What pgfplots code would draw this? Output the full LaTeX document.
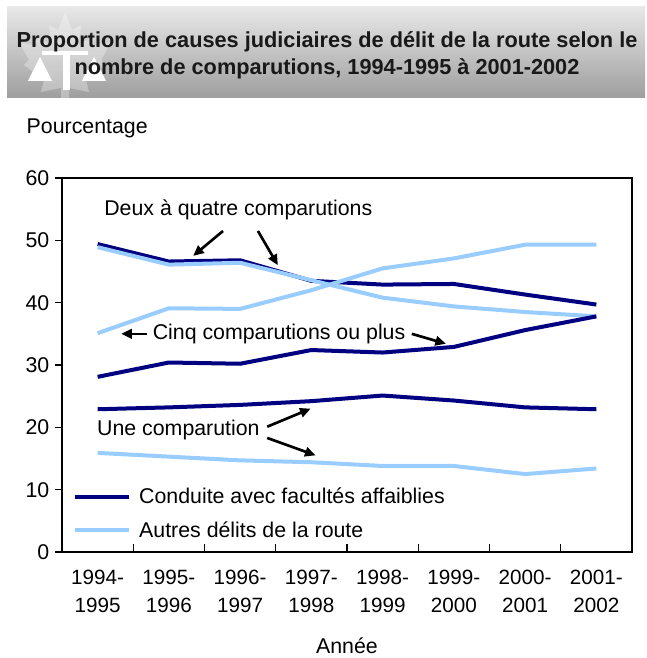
\documentclass[border=0pt]{standalone}
\usepackage{pgfplots}
\pgfplotsset{compat=1.18}
\usepackage{fontspec}
\setmainfont{Liberation Sans}
\usetikzlibrary{arrows.meta}
\definecolor{darkb}{RGB}{0,0,128}
\definecolor{lightb}{RGB}{153,204,255}
\begin{document}
\begin{tikzpicture}[x=0.75pt,y=0.75pt]
\useasboundingbox (0,0) rectangle (647,658);
% banner
\shade[top color={rgb,255:red,232;green,232;blue,232}, bottom color={rgb,255:red,158;green,158;blue,158}] (7,560) rectangle (645,651);
\fill[white,opacity=0.3] (65,646) -- (72,628) -- (81,633) -- (79,613) -- (96,623) -- (93,612) -- (111,616) -- (101,598) -- (106,593) -- (86,578) -- (89,566) -- (69,570) -- (69,560) -- (61,560) -- (61,570) -- (41,566) -- (44,578) -- (24,593) -- (29,598) -- (19,616) -- (37,612) -- (34,623) -- (51,613) -- (49,633) -- (58,628) -- cycle;
\fill[white] (28,577) -- (40,601) -- (52,577) -- cycle;
\fill[white] (82,577) -- (94,601) -- (106,577) -- cycle;
\fill[white] (63,568) rectangle (70,603);
\fill[white] (42,603) rectangle (88,607);
\node[font=\fontsize{16.3}{20}\selectfont\bfseries, text={rgb,255:red,25;green,25;blue,25}, align=center] at (327,603) {Proportion de causes judiciaires de délit de la route selon le\\nombre de comparutions, 1994-1995 à 2001-2002};
\node[font=\fontsize{16}{19}\selectfont, anchor=west] at (22,530) {Pourcentage};
\node[font=\fontsize{16}{19}\selectfont, inner sep=1pt] at (347,12) {Année};
\begin{axis}[at={(46.5pt,79.5pt)}, anchor=south west, scale only axis,
  width=427.5pt, height=280.5pt,
  xmin=-0.5, xmax=7.5, ymin=0, ymax=60,
  axis line style={line width=1.3pt},
  tick align=inside,
  xtick={0,...,7},
  xticklabels={{1994-\\1995},{1995-\\1996},{1996-\\1997},{1997-\\1998},{1998-\\1999},{1999-\\2000},{2000-\\2001},{2001-\\2002}},
  xticklabel style={align=center, font=\fontsize{15.5}{21}\selectfont, yshift=-10pt},
  major x tick style={draw=none},
  minor xtick={0.5,1.5,...,6.5},
  minor tick length=6pt,
  minor x tick style={line width=1pt, black},
  ytick={0,10,...,60},
  ytick pos=left, xtick pos=bottom,
  y tick style={line width=1pt, black, xshift=-5pt},
  major tick length=5pt,
  yticklabel style={font=\fontsize{16}{19}\selectfont, xshift=-6pt},
  /pgf/number format/assume math mode=true,
  legend image code/.code={\draw[#1] (0pt,0pt) -- (41pt,0pt); \path (45pt,0pt);},
  legend style={draw=none, fill=none, at={(0.011,0.187)}, anchor=north west, font=\fontsize{16}{19}\selectfont, row sep=8pt, legend cell align=left},
  clip=false,
]
\addplot[darkb, line width=3pt] coordinates {(0,49.4) (1,46.6) (2,46.8) (3,43.5) (4,42.9) (5,43.0) (6,41.3) (7,39.7)};
\addlegendentry{Conduite avec facultés affaiblies}
\addplot[lightb, line width=3pt] coordinates {(0,48.9) (1,46.1) (2,46.4) (3,43.6) (4,40.8) (5,39.4) (6,38.5) (7,37.8)};
\addlegendentry{Autres délits de la route}
\addplot[darkb, line width=3pt, forget plot] coordinates {(0,28.1) (1,30.4) (2,30.2) (3,32.4) (4,32.0) (5,32.9) (6,35.6) (7,37.8)};
\addplot[lightb, line width=3pt, forget plot] coordinates {(0,35.1) (1,39.1) (2,39.0) (3,42.0) (4,45.5) (5,47.1) (6,49.3) (7,49.3)};
\addplot[darkb, line width=3pt, forget plot] coordinates {(0,22.9) (1,23.2) (2,23.6) (3,24.2) (4,25.1) (5,24.3) (6,23.2) (7,22.9)};
\addplot[lightb, line width=3pt, forget plot] coordinates {(0,15.9) (1,15.3) (2,14.7) (3,14.4) (4,13.8) (5,13.8) (6,12.5) (7,13.4)};
% annotations
\node[font=\fontsize{16}{19}\selectfont, anchor=west, inner sep=0pt] at (axis cs:0.09,54.9) {Deux à quatre comparutions};
\node[font=\fontsize{16}{19}\selectfont, anchor=west, inner sep=0pt] at (axis cs:0.77,35.0) {Cinq comparutions ou plus};
\node[font=\fontsize{16}{19}\selectfont, anchor=west, inner sep=0pt] at (axis cs:-0.01,19.5) {Une comparution};
\draw[line width=2pt, -{Triangle[length=8pt,width=7pt]}] (axis cs:1.76,51.5) -- (axis cs:1.34,47.5);
\draw[line width=2pt, -{Triangle[length=8pt,width=7pt]}] (axis cs:2.25,51.5) -- (axis cs:2.53,46.0);
\draw[line width=2pt, -{Triangle[length=8pt,width=7pt]}] (axis cs:0.69,35.0) -- (axis cs:0.33,35.0);
\draw[line width=2pt, -{Triangle[length=8pt,width=7pt]}] (axis cs:4.41,35.0) -- (axis cs:4.89,33.4);
\draw[line width=2pt, -{Triangle[length=8pt,width=7pt]}] (axis cs:2.38,20.1) -- (axis cs:2.99,23.0);
\draw[line width=2pt, -{Triangle[length=8pt,width=7pt]}] (axis cs:2.38,18.3) -- (axis cs:3.06,15.5);
\end{axis}
\end{tikzpicture}
\end{document}
